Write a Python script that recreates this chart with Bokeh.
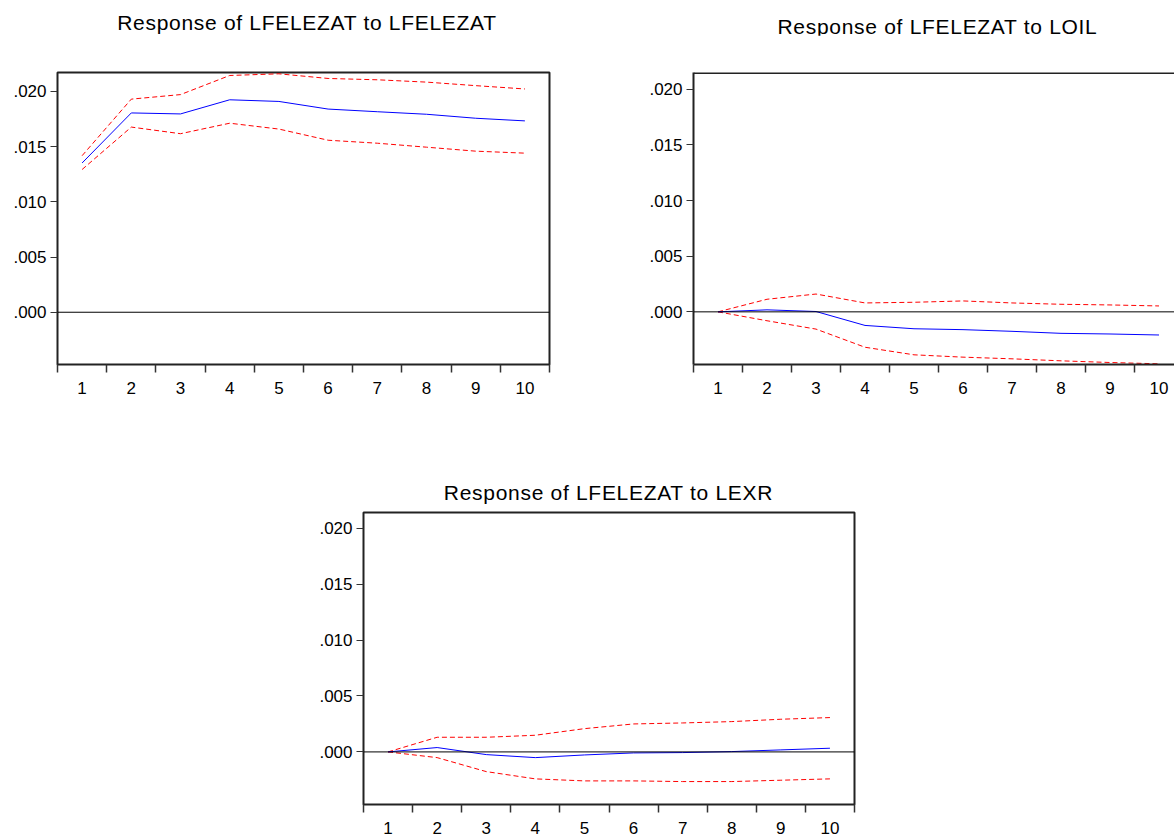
from bokeh.plotting import figure
from bokeh.models import FixedTicker, CustomJSTickFormatter, Span, Spacer, Range1d, Div
from bokeh.layouts import row, column
from bokeh.embed import file_html
from bokeh.resources import INLINE

# ---------------- data ----------------
periods = [1, 2, 3, 4, 5, 6, 7, 8, 9, 10]
period_labels = ["1", "2", "3", "4", "5", "6", "7", "8", "9", "10"]
y_ticks = [0.0, 0.005, 0.010, 0.015, 0.020]

title_fel = "Response of LFELEZAT to LFELEZAT"
resp_fel = [0.01351, 0.01804, 0.01795, 0.01923, 0.01908, 0.01839, 0.01815, 0.01792, 0.01756, 0.01732]
upper_fel = [0.01417, 0.01929, 0.01970, 0.02143, 0.02158, 0.02116, 0.02104, 0.02083, 0.02051, 0.02021]
lower_fel = [0.01292, 0.01676, 0.01616, 0.01711, 0.01658, 0.01557, 0.01530, 0.01494, 0.01458, 0.01440]

title_oil = "Response of LFELEZAT to LOIL"
resp_oil = [0.0, 0.00018, 0.00003, -0.00122, -0.00152, -0.00160, -0.00175, -0.00193, -0.00199, -0.00208]
upper_oil = [0.0, 0.00113, 0.00160, 0.00080, 0.00086, 0.00098, 0.00080, 0.00068, 0.00062, 0.00053]
lower_oil = [0.0, -0.00080, -0.00155, -0.00318, -0.00386, -0.00407, -0.00422, -0.00440, -0.00455, -0.00467]

title_exr = "Response of LFELEZAT to LEXR"
resp_exr = [0.0, 0.00039, -0.00024, -0.00051, -0.00027, -0.00009, -0.00006, 0.00003, 0.00018, 0.00033]
upper_exr = [0.0, 0.00131, 0.00131, 0.00149, 0.00208, 0.00250, 0.00259, 0.00271, 0.00292, 0.00307]
lower_exr = [0.0, -0.00051, -0.00176, -0.00241, -0.00259, -0.00259, -0.00265, -0.00265, -0.00253, -0.00241]

FONT = "Liberation Sans"


def make_panel(resp, upper, lower, width, height, left, right, top, bottom,
               x_end, y_start, y_end, open_right=False):
    p = figure(width=width, height=height, output_backend="svg", toolbar_location=None,
               min_border_left=left, min_border_right=right,
               min_border_top=top, min_border_bottom=bottom,
               x_range=Range1d(0.5, x_end), y_range=Range1d(y_start, y_end), margin=0)
    p.grid.visible = False
    p.background_fill_color = "white"
    p.border_fill_color = "white"
    if open_right:
        p.outline_line_color = None
    else:
        p.outline_line_color = "#222222"
        p.outline_line_width = 2

    # x axis: labels at integer periods, tick marks between periods
    xa = p.xaxis[0]
    xa.ticker = FixedTicker(ticks=periods, minor_ticks=[k + 0.5 for k in range(0, 11)])
    xa.major_label_overrides = {k: s for k, s in zip(periods, period_labels)}
    xa.major_tick_line_color = None
    xa.major_tick_out = 0
    xa.major_tick_in = 0
    xa.minor_tick_line_color = "#333333"
    xa.minor_tick_line_width = 1.5
    xa.minor_tick_out = 8
    xa.minor_tick_in = 0
    xa.major_label_standoff = 9
    xa.major_label_text_font = FONT
    xa.major_label_text_font_size = "17px"
    xa.major_label_text_color = "black"

    ya = p.yaxis[0]
    ya.ticker = FixedTicker(ticks=y_ticks, minor_ticks=[])
    ya.formatter = CustomJSTickFormatter(code="return tick.toFixed(3).replace(/^0/, '');")
    ya.major_tick_line_color = "#333333"
    ya.major_tick_out = 7
    ya.major_tick_in = 0
    ya.minor_tick_line_color = None
    ya.major_label_standoff = 4
    ya.major_label_text_font = FONT
    ya.major_label_text_font_size = "17px"
    ya.major_label_text_color = "black"

    if open_right:
        for ax in (xa, ya):
            ax.axis_line_color = "#222222"
            ax.axis_line_width = 2
        p.add_layout(Span(location=y_end, dimension="width", line_color="#222222", line_width=3))
    else:
        xa.axis_line_color = None
        ya.axis_line_color = None

    p.add_layout(Span(location=0, dimension="width", line_color="black", line_width=1))

    p.line(periods, upper, line_color="#ff0000", line_width=1, line_dash="5 3")
    p.line(periods, lower, line_color="#ff0000", line_width=1, line_dash="5 3")
    p.line(periods, resp, line_color="#0000ff", line_width=1)
    return p


def title_div(text, width, dx=0, dy=0):
    style = {"font-family": FONT, "font-size": "21px", "line-height": "24px",
             "letter-spacing": "0.7px",
             "text-align": "center", "color": "black", "white-space": "nowrap"}
    html = f'<span style="position:relative; left:{dx}px; top:{dy}px;">{text}</span>'
    return Div(text=html, width=width, height=24, margin=0, styles=style)


p1 = make_panel(resp_fel, upper_fel, lower_fel,
                width=593, height=365, left=57, right=44, top=33, bottom=36,
                x_end=10.5, y_start=-0.00473, y_end=0.0217)
p2 = make_panel(resp_oil, upper_oil, lower_oil,
                width=581, height=365, left=100, right=0, top=37, bottom=33,
                x_end=0.5 + 481 / 49.0, y_start=-0.00473, y_end=0.0215,
                open_right=True)
p3 = make_panel(resp_exr, upper_exr, lower_exr,
                width=571, height=331, left=60, right=20, top=7, bottom=29,
                x_end=10.5, y_start=-0.0047, y_end=0.0214)

titles_top = row(Spacer(width=57, height=24, margin=0), title_div(title_fel, 492, dx=4),
                 Spacer(width=144, height=24, margin=0), title_div(title_oil, 481, dx=4, dy=4),
                 spacing=0, margin=0)
title_bottom = row(Spacer(width=363, height=24, margin=0), title_div(title_exr, 491),
                   spacing=0, margin=0)

layout = column(
    Spacer(width=10, height=11, margin=0),
    titles_top,
    row(p1, p2, spacing=0, margin=0),
    Spacer(width=10, height=81, margin=0),
    title_bottom,
    row(Spacer(width=303, height=331, margin=0), p3, spacing=0, margin=0),
    spacing=0, margin=0,
)

open("out.html", "w").write(file_html(layout, INLINE))
